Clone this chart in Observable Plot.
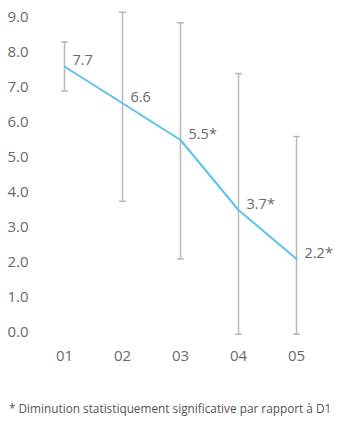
<!DOCTYPE html>
<html>
<head>
<meta charset="utf-8">
<script src="https://cdn.jsdelivr.net/npm/d3@7"></script>
<script src="https://cdn.jsdelivr.net/npm/@observablehq/plot@0.6"></script>
<style>
  body { margin: 0; background: #fff; font-family: "Open Sans", sans-serif; }
  #chart { width: 354px; }
  .note { font-size: 11.8px; color: #555; margin: 22px 0 0 9px; white-space: nowrap; }
</style>
</head>
<body>
<div id="chart"></div>
<script>
const days = ["01", "02", "03", "04", "05"];
const means = [7.6, 6.55, 5.5, 3.5, 2.1];
const lows = [6.9, 3.75, 2.1, -0.05, -0.05];
const highs = [8.3, 9.15, 8.85, 7.4, 5.6];
const labels = ["7.7", "6.6", "5.5*", "3.7*", "2.2*"];
const yTicks = [0, 1, 2, 3, 4, 5, 6, 7, 8, 9];
const footnote = "* Diminution statistiquement significative par rapport à D1";

const data = days.map((d, i) => ({day: d, mean: means[i], low: lows[i], high: highs[i], label: labels[i]}));

const gray = "#b9b9b9";
const textColor = "#6a6a6a";

// horizontal cap symbol for the error bars
const capSymbol = {
  draw(context, size) {
    const w = Math.sqrt(size / Math.PI);
    context.moveTo(-w, 0);
    context.lineTo(w, 0);
  }
};

const chart = Plot.plot({
  width: 354,
  height: 378,
  marginLeft: 63,
  marginRight: 57,
  marginTop: 17,
  marginBottom: 46,
  style: {fontFamily: "'Open Sans', sans-serif", fontSize: "14px", color: textColor, background: "#fff"},
  x: {type: "point", domain: days, padding: 0, label: null},
  y: {domain: [0, 9], label: null},
  marks: [
    Plot.axisY({ticks: yTicks, tickFormat: d => d.toFixed(1), tickSize: 0, tickPadding: 35, fontSize: 15, fill: textColor}),
    Plot.axisX({tickSize: 0, tickPadding: 18, fontSize: 15, fill: textColor}),
    Plot.ruleX(data, {x: "day", y1: "low", y2: "high", stroke: gray, strokeWidth: 1.5}),
    Plot.dot(data, {x: "day", y: "low", symbol: capSymbol, r: 3.5, fill: "none", stroke: gray, strokeWidth: 1.5}),
    Plot.dot(data, {x: "day", y: "high", symbol: capSymbol, r: 3.5, fill: "none", stroke: gray, strokeWidth: 1.5}),
    Plot.line(data, {x: "day", y: "mean", stroke: "#5bc3ef", strokeWidth: 2}),
    Plot.text(data, {x: "day", y: "mean", text: "label", textAnchor: "start", dx: 8, dy: -6, fontSize: 14.5, fill: textColor})
  ]
});
document.getElementById("chart").appendChild(chart);
const note = document.createElement("div");
note.className = "note";
note.textContent = footnote;
document.getElementById("chart").appendChild(note);
</script>
</body>
</html>
